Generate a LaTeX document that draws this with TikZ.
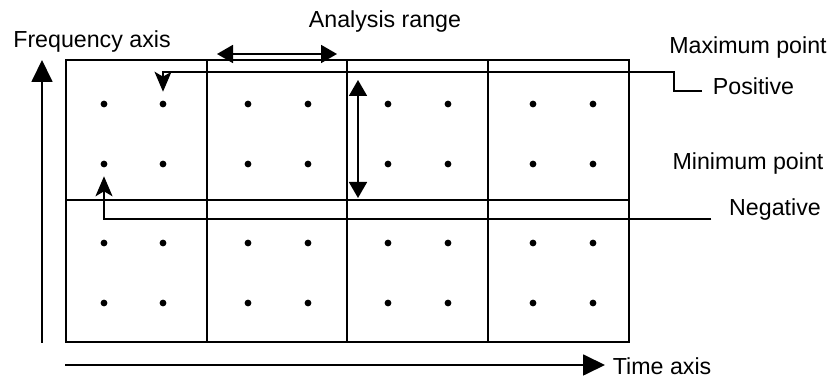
\documentclass[tikz,border=0pt]{standalone}
\usepackage{fontspec}
\setmainfont{Liberation Sans}
\usepackage{tikz}
\usetikzlibrary{arrows.meta,positioning,calc}

\begin{document}
\begin{tikzpicture}[x=0.5pt, y=-0.5pt, line width=0.9pt]
    \tikzstyle{lbl}=[inner sep=0pt, font=\fontsize{11.6}{14}\selectfont]
    \tikzstyle{dot}=[circle, fill, inner sep=0pt, minimum size=3.4pt]
    \tikzstyle{axis}=[-{Triangle[length=11pt, width=10.5pt]}]
    \tikzstyle{span}=[{Triangle[length=8pt, width=9pt]}-{Triangle[length=8pt, width=9pt]}]
    \tikzstyle{signarrow}=[-{Stealth[length=10pt, width=8.5pt, inset=2.5pt]}, shorten >=4pt]
    \useasboundingbox (0,0) rectangle (836,378);
    % grid of analysis blocks
    \draw (66,60) rectangle (629,342);
    \draw (66,200) -- (629,200);
    \foreach \gx in {207,347,488}
      \draw (\gx,60) -- (\gx,342);
    % sample points
    \foreach \px [count=\i] in {104,163,248,308,388,448,533,593}
      \foreach \py [count=\j] in {104,164,243,303}
        \node[dot] (d\i\j) at (\px,\py) {};
    % labels
    \node[lbl] (freq) at (92,42) {Frequency axis};
    \node[lbl] (range) at (385,22) {Analysis range};
    \node[lbl] (maxpt) at (748,48) {Maximum point};
    \node[lbl, anchor=west] (pos) at (712,86) {Positive};
    \node[lbl] (minpt) at (748,164) {Minimum point};
    \node[lbl] (neg) at (775,210) {Negative};
    \node[lbl, anchor=west] (time) at (612,366) {Time axis};
    % axes
    \coordinate (f0) at (42,343);
    \coordinate (f1) at (42,60);
    \coordinate (t0) at (65,365);
    \draw[axis] (f0) -- (f1);
    \draw[axis] (t0) -- ([xshift=-3.5pt]time.west |- t0);
    % ranges
    \coordinate (r0) at (217,54);
    \coordinate (r1) at (337,54);
    \draw[span] (r0) -- (r1);
    \coordinate (v0) at (358,80);
    \coordinate (v1) at (358,198);
    \draw[span] (v0) -- (v1);
    % positive / negative markers
    \coordinate (pbend) at (674,72);
    \draw[signarrow] ([xshift=-5pt]pos.west |- 0,91) -| (pbend) -| (d21);
    \draw[signarrow] ([xshift=-8.5pt]neg.west |- 0,219) -| (d12);
\end{tikzpicture}
\end{document}
